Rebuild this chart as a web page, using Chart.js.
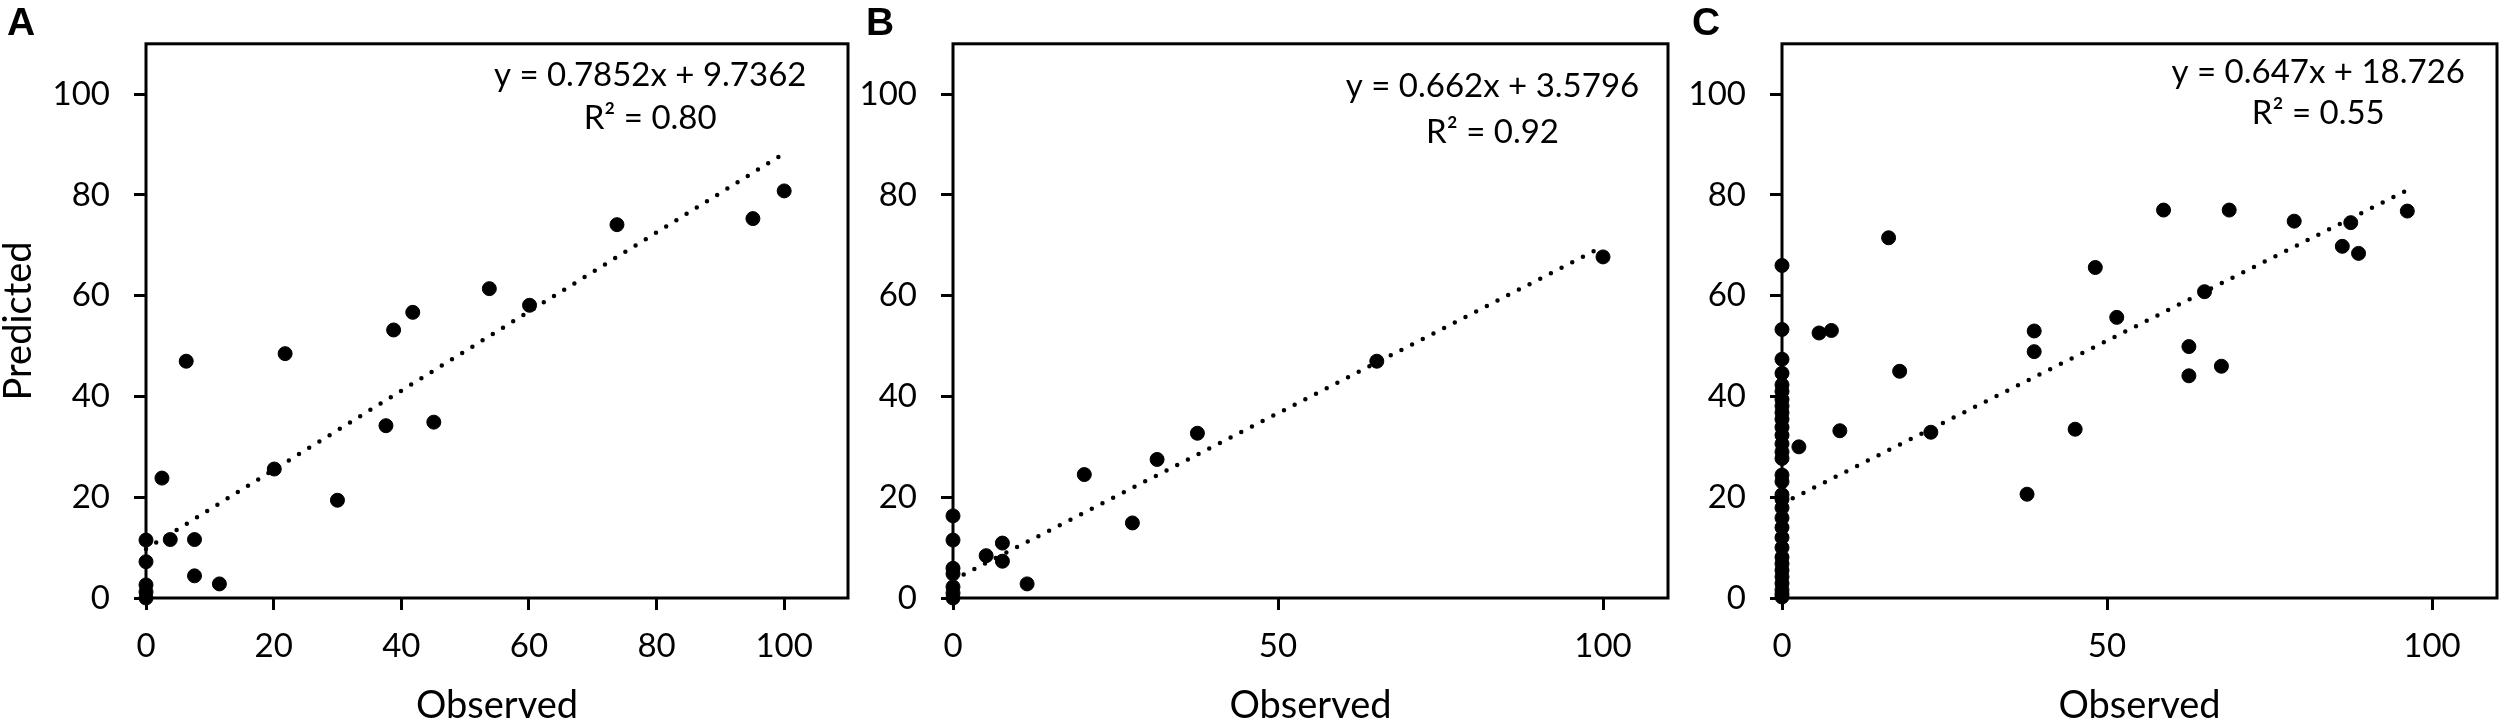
<!DOCTYPE html>
<html>
<head>
<meta charset="utf-8">
<title>Observed vs Predicted</title>
<script src="https://cdn.jsdelivr.net/npm/chart.js@4.4.0/dist/chart.umd.min.js"></script>
<style>
  html, body { margin: 0; padding: 0; background: #fff; }
  #wrap { position: relative; width: 2505px; height: 725px; overflow: hidden; }
  .panel { position: absolute; top: 0; height: 725px; }
</style>
</head>
<body>
<div id="wrap">
  <div class="panel" style="left:0px;width:858px"><canvas id="chartA" width="858" height="725"></canvas></div>
  <div class="panel" style="left:858px;width:818px"><canvas id="chartB" width="818" height="725"></canvas></div>
  <div class="panel" style="left:1676px;width:829px"><canvas id="chartC" width="829" height="725"></canvas></div>
</div>
<script>
// Panel A
const observedA = [0, 0, 0, 0, 0, 2.5, 3.8, 6.3, 7.6, 7.6, 11.5, 20.1, 21.8, 30.0, 37.6, 38.8, 41.8, 45.1, 53.8, 60.1, 73.8, 95.1, 100];
const predictedA = [11.5, 7.2, 2.6, 1.2, 0, 23.8, 11.6, 47.0, 11.6, 4.4, 2.8, 25.6, 48.5, 19.4, 34.2, 53.2, 56.7, 34.9, 61.4, 58.1, 74.1, 75.3, 80.8];

// Panel B
const observedB = [0, 0, 0, 0, 0, 0, 0, 5.1, 7.6, 7.6, 11.4, 20.2, 27.6, 31.4, 37.6, 65.2, 100];
const predictedB = [16.3, 11.5, 5.9, 4.8, 2.2, 1.0, 0, 8.4, 10.9, 7.3, 2.8, 24.5, 14.9, 27.5, 32.7, 47.0, 67.7];

// Panel C
const observedC = [0, 0, 0, 0, 0, 0, 0, 0, 0, 0, 0, 0, 0, 0, 0, 0, 0, 0, 0, 0, 0, 0, 0, 0, 0, 0, 0, 0, 0, 0, 0, 0,
  2.6, 5.7, 7.6, 8.9, 16.4, 18.1, 22.9, 37.7, 38.8, 38.8, 45.1, 48.2, 51.5, 58.7, 62.6, 62.6, 65.0, 67.6, 68.8, 78.8, 86.2, 87.5, 88.7, 96.2];
const predictedC = [66.0, 53.3, 47.4, 44.6, 42.3, 41.0, 39.4, 38.1, 36.8, 35.5, 33.9, 32.3, 30.6, 29.0, 27.7, 24.4, 23.1, 20.5, 19.6, 17.9, 15.9, 14.0, 12.0, 10.0, 8.1, 6.8, 5.5, 4.2, 2.9, 1.6, 0.8, 0.2,
  30.0, 52.6, 53.1, 33.2, 71.5, 45.0, 32.9, 20.6, 53.0, 48.9, 33.5, 65.6, 55.7, 77.0, 49.9, 44.1, 60.8, 46.0, 77.0, 74.8, 69.8, 74.5, 68.4, 76.8];

// Trendlines as printed on the chart
const trendSlopes = [0.7852, 0.662, 0.647];
const trendIntercepts = [9.7362, 3.5796, 18.726];

const panelLetters = ['A', 'B', 'C'];
const equationTexts = ['y = 0.7852x + 9.7362', 'y = 0.662x + 3.5796', 'y = 0.647x + 18.726'];
const r2Texts = ['R\u00B2 = 0.80', 'R\u00B2 = 0.92', 'R\u00B2 = 0.55'];
const xTickSteps = [20, 50, 50];

const FONT = 'Lato';

function toPoints(xs, ys) {
  return xs.map(function(x, i) { return { x: x, y: ys[i] }; });
}

function trendPoints(i, xs) {
  const xMin = Math.min.apply(null, xs);
  const xMax = Math.max.apply(null, xs);
  return [
    { x: xMin, y: trendSlopes[i] * xMin + trendIntercepts[i] },
    { x: xMax, y: trendSlopes[i] * xMax + trendIntercepts[i] }
  ];
}

// box, panel letter and equation text
const panelDecor = {
  id: 'panelDecor',
  beforeDatasetsDraw(chart, args, opts) {
    const a = chart.chartArea;
    const ctx = chart.ctx;
    ctx.save();
    ctx.strokeStyle = '#000';
    ctx.lineWidth = 3;
    ctx.strokeRect(a.left, a.top, a.right - a.left, a.bottom - a.top);
    ctx.restore();
  },
  afterDraw(chart, args, opts) {
    const ctx = chart.ctx;
    const xs = chart.scales.x;
    const ys = chart.scales.y;
    ctx.save();
    ctx.fillStyle = '#000';
    ctx.font = 'bold 39px "Liberation Sans", Arial, sans-serif';
    ctx.textAlign = 'left';
    ctx.textBaseline = 'alphabetic';
    ctx.fillText(opts.letter, opts.letterX, 35);

    ctx.font = '33px ' + FONT;
    ctx.textAlign = 'center';
    ctx.textBaseline = 'middle';
    const cx = xs.getPixelForValue(opts.eqX);
    ctx.fillText(opts.equation, cx, ys.getPixelForValue(opts.eqY1));
    ctx.fillText(opts.r2, cx, ys.getPixelForValue(opts.eqY2));
    ctx.restore();
  }
};

function makePanel(cfg) {
  const i = cfg.index;
  const ctx = document.getElementById(cfg.canvas).getContext('2d');
  return new Chart(ctx, {
    type: 'scatter',
    data: {
      datasets: [{
        type: 'line',
        data: trendPoints(i, cfg.obs),
        borderColor: '#000',
        borderWidth: 4.5,
        borderDash: [0, 12],
        borderCapStyle: 'round',
        pointRadius: 0,
        fill: false,
        clip: false
      }, {
        data: toPoints(cfg.obs, cfg.pred),
        backgroundColor: '#000',
        borderColor: '#000',
        borderWidth: 1,
        pointRadius: 7,
        clip: false
      }]
    },
    options: {
      responsive: false,
      animation: false,
      layout: { padding: { top: 35, right: cfg.padRight, bottom: 0, left: 0 } },
      plugins: {
        legend: { display: false },
        tooltip: { enabled: false },
        panelDecor: {
          letter: panelLetters[i],
          letterX: cfg.letterX,
          equation: equationTexts[i],
          r2: r2Texts[i],
          eqX: cfg.eqX,
          eqY1: cfg.eqY1,
          eqY2: cfg.eqY2
        }
      },
      scales: {
        x: {
          type: 'linear',
          min: 0,
          max: 110,
          border: { display: false },
          grid: { display: true, drawOnChartArea: false, drawTicks: true, tickLength: 12, tickWidth: 3, tickColor: '#000' },
          ticks: { stepSize: xTickSteps[i], includeBounds: false, color: '#000', padding: 17, font: { family: FONT, size: 33 } },
          title: { display: true, text: 'Observed', color: '#000', padding: 0, font: { family: FONT, size: 38, lineHeight: 1.0 } },
          afterFit: function(scale) { scale.height = 127; }
        },
        y: {
          type: 'linear',
          min: 0,
          max: 110,
          border: { display: false },
          grid: { display: true, drawOnChartArea: false, drawTicks: true, tickLength: 12, tickWidth: 3, tickColor: '#000' },
          ticks: { stepSize: 20, includeBounds: false, color: '#000', padding: 24, font: { family: FONT, size: 33 } },
          title: { display: cfg.yTitle, text: 'Predicted', color: '#000', padding: 0, font: { family: FONT, size: 38, lineHeight: 1.0 } },
          afterFit: function(scale) { scale.width = cfg.yWidth; }
        }
      }
    },
    plugins: [panelDecor]
  });
}

document.addEventListener('DOMContentLoaded', function() {
  makePanel({ index: 0, canvas: 'chartA', obs: observedA, pred: predictedA, yWidth: 146, padRight: 10, yTitle: true,
    letterX: 7, eqX: 79.0, eqY1: 103.7, eqY2: 95.3 });
  makePanel({ index: 1, canvas: 'chartB', obs: observedB, pred: predictedB, yWidth: 95, padRight: 5, yTitle: false,
    letterX: 8, eqX: 83.0, eqY1: 101.5, eqY2: 92.5 });
  makePanel({ index: 2, canvas: 'chartC', obs: observedC, pred: predictedC, yWidth: 106, padRight: 5, yTitle: false,
    letterX: 16, eqX: 82.5, eqY1: 104.4, eqY2: 96.1 });
});
</script>
</body>
</html>
